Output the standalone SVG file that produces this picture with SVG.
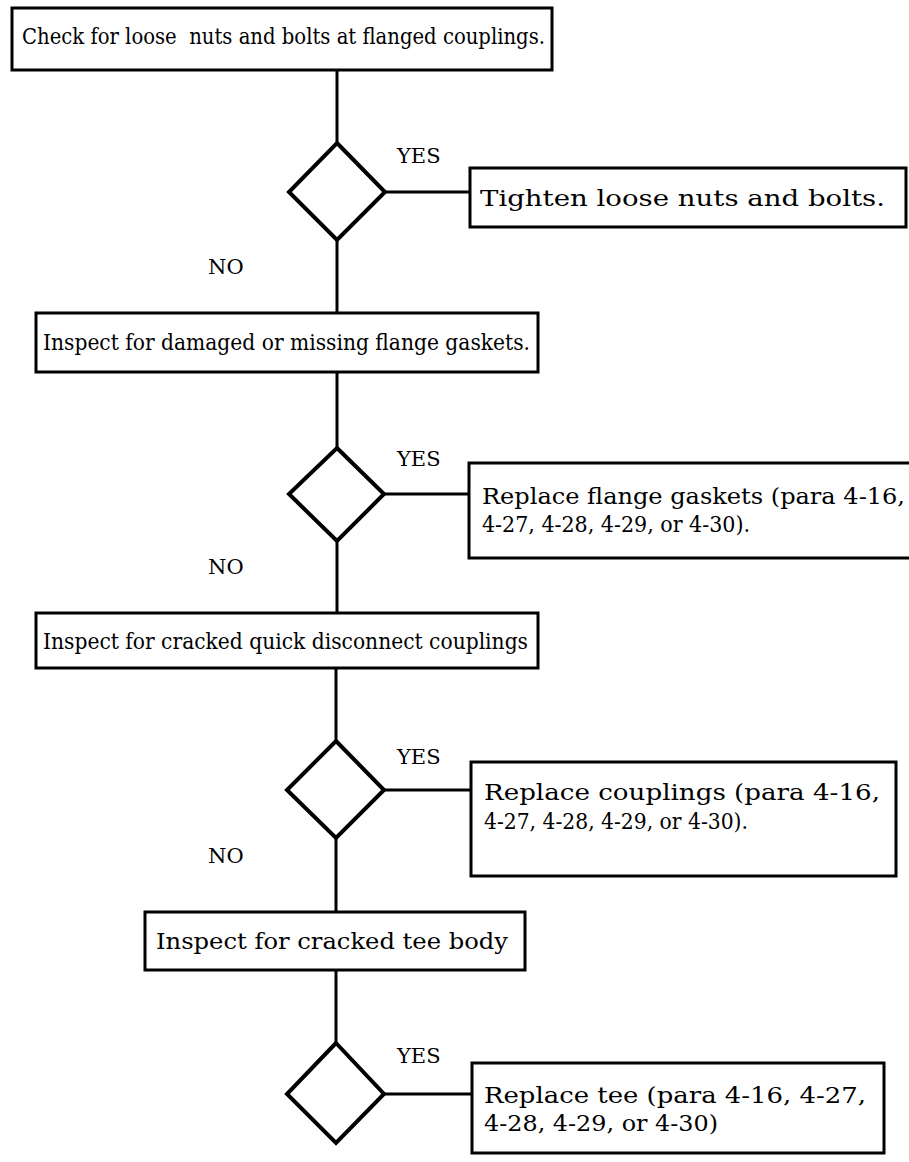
<svg xmlns="http://www.w3.org/2000/svg" width="909" height="1162" viewBox="0 0 909 1162">
<style>
.box{fill:#fff;stroke:#000;stroke-width:3}
.dia{fill:#fff;stroke:#000;stroke-width:4;stroke-linejoin:miter}
.ln{stroke:#000;stroke-width:3;fill:none}
text{font-family:"DejaVu Serif","Liberation Serif",serif;font-size:22px;fill:#000}
.lbl{font-size:21px}
.r{font-size:23px}
</style>
<rect width="909" height="1162" fill="#fff"/>
<g id="connectors">
<line class="ln" x1="337" y1="70" x2="337" y2="143"/>
<line class="ln" x1="384" y1="192" x2="470" y2="192"/>
<line class="ln" x1="337" y1="240" x2="337" y2="313"/>
<line class="ln" x1="337" y1="372" x2="337" y2="448"/>
<line class="ln" x1="384" y1="494" x2="469" y2="494"/>
<line class="ln" x1="337" y1="541" x2="337" y2="613"/>
<line class="ln" x1="336" y1="668" x2="336" y2="741"/>
<line class="ln" x1="383" y1="790" x2="471" y2="790"/>
<line class="ln" x1="336" y1="838" x2="336" y2="912"/>
<line class="ln" x1="336" y1="970" x2="336" y2="1043"/>
<line class="ln" x1="383" y1="1094" x2="472" y2="1094"/>
</g>
<g id="n1">
<rect class="box" x="12" y="8" width="540" height="62"/>
<text x="22" y="44" xml:space="preserve" textLength="523" lengthAdjust="spacingAndGlyphs">Check for loose  nuts and bolts at flanged couplings.</text>
</g>
<g id="d1">
<polygon class="dia" points="337,143 385,192 337,240 289,192"/>
<text class="lbl" x="397" y="163">YES</text>
<text class="lbl" x="208" y="274">NO</text>
</g>
<g id="n2">
<rect class="box" x="470" y="168" width="436" height="59"/>
<text class="r" x="480" y="206" textLength="405" lengthAdjust="spacingAndGlyphs">Tighten loose nuts and bolts.</text>
</g>
<g id="n3">
<rect class="box" x="36" y="313" width="502" height="59"/>
<text x="43" y="350" textLength="487" lengthAdjust="spacingAndGlyphs">Inspect for damaged or missing flange gaskets.</text>
</g>
<g id="d2">
<polygon class="dia" points="337,448 384,494 337,541 289,494"/>
<text class="lbl" x="397" y="466">YES</text>
<text class="lbl" x="208" y="574">NO</text>
</g>
<g id="n4">
<rect class="box" x="469" y="463" width="460" height="95"/>
<text class="r" x="482" y="504" textLength="423" lengthAdjust="spacingAndGlyphs">Replace flange gaskets (para 4-16,</text>
<text class="r" x="482" y="532" textLength="268" lengthAdjust="spacingAndGlyphs">4-27, 4-28, 4-29, or 4-30).</text>
</g>
<g id="n5">
<rect class="box" x="36" y="613" width="502" height="55"/>
<text x="43" y="649" textLength="485" lengthAdjust="spacingAndGlyphs">Inspect for cracked quick disconnect couplings</text>
</g>
<g id="d3">
<polygon class="dia" points="336,741 384,790 336,838 287,790"/>
<text class="lbl" x="397" y="764">YES</text>
<text class="lbl" x="208" y="863">NO</text>
</g>
<g id="n6">
<rect class="box" x="471" y="762" width="425" height="114"/>
<text class="r" x="484" y="800" textLength="396" lengthAdjust="spacingAndGlyphs">Replace couplings (para 4-16,</text>
<text class="r" x="484" y="829" textLength="264" lengthAdjust="spacingAndGlyphs">4-27, 4-28, 4-29, or 4-30).</text>
</g>
<g id="n7">
<rect class="box" x="145" y="912" width="380" height="58"/>
<text class="r" x="156" y="949" textLength="352" lengthAdjust="spacingAndGlyphs">Inspect for cracked tee body</text>
</g>
<g id="d4">
<polygon class="dia" points="336,1043 384,1094 336,1143 287,1094"/>
<text class="lbl" x="397" y="1063">YES</text>
</g>
<g id="n8">
<rect class="box" x="472" y="1063" width="412" height="90"/>
<text class="r" x="484" y="1103" textLength="382" lengthAdjust="spacingAndGlyphs">Replace tee (para 4-16, 4-27,</text>
<text class="r" x="484" y="1131" textLength="234" lengthAdjust="spacingAndGlyphs">4-28, 4-29, or 4-30)</text>
</g>
</svg>
